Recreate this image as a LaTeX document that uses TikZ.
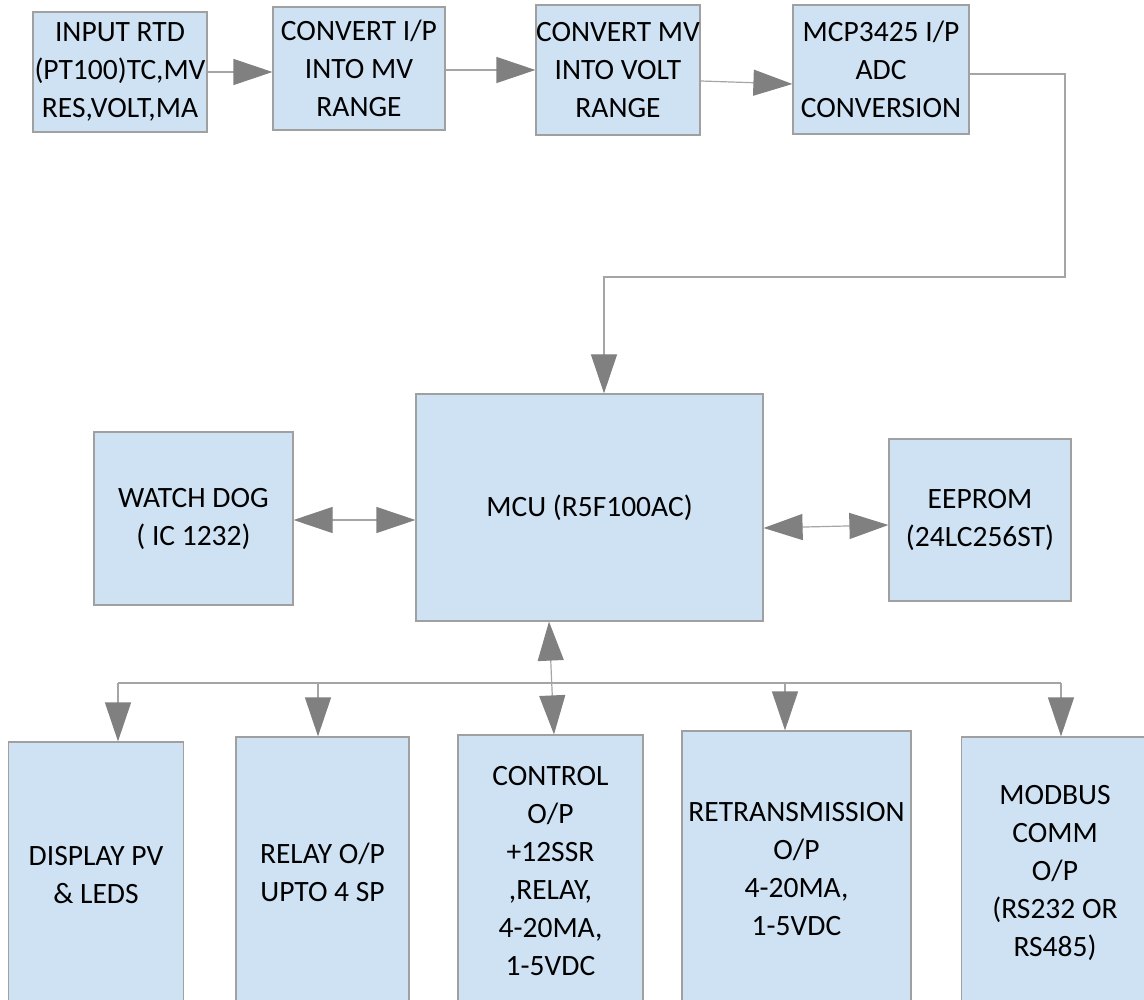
\documentclass[tikz,border=0pt]{standalone}
\usepackage{fontspec}
\setmainfont{Carlito}
\usetikzlibrary{arrows.meta}
\definecolor{boxfill}{RGB}{207,226,243}
\definecolor{boxline}{RGB}{160,160,160}
\definecolor{wire}{RGB}{165,165,165}
\definecolor{tipgray}{RGB}{128,128,128}
\tikzset{
  blk/.style={draw=boxline, fill=boxfill, line width=1.2pt, inner sep=0pt,
    align=center, font=\fontsize{29.5}{38}\selectfont},
  bigtip/.tip={Triangle[length=39pt,width=26pt,color=tipgray]},
  arr/.style={draw=wire, line width=1.2pt, -bigtip},
  dblarr/.style={draw=wire, line width=1.2pt, bigtip-bigtip},
  wireline/.style={draw=wire, line width=1.2pt}
}
\begin{document}
\begin{tikzpicture}[x=1pt, y=-1pt]
  \path[use as bounding box] (0,0) rectangle (1144,1000);
  \clip (0,0) rectangle (1144,1000);

  % input chain
  \node[blk, minimum width=174pt, minimum height=120pt] (b1) at (120,72)
    {INPUT RTD\\(PT100)TC,MV\\RES,VOLT,MA};
  \node[blk, minimum width=172pt, minimum height=123pt] (b2) at (359,68.5)
    {CONVERT I/P\\INTO MV\\RANGE};
  \node[blk, minimum width=164pt, minimum height=130pt] (b3) at (618,70)
    {CONVERT MV\\INTO VOLT\\RANGE};
  \node[blk, minimum width=176pt, minimum height=129pt] (b4) at (881,69.5)
    {MCP3425 I/P\\ADC\\CONVERSION};

  % controller and its peripherals
  \node[blk, minimum width=347pt, minimum height=227pt] (mcu) at (589.5,507.5)
    {MCU (R5F100AC)};
  \node[blk, minimum width=199pt, minimum height=173pt] (wd) at (193.5,518.5)
    {WATCH DOG\\( IC 1232)};
  \node[blk, minimum width=182pt, minimum height=162pt] (ee) at (980,520)
    {EEPROM\\ (24LC256ST)};

  % outputs
  \node[blk, minimum width=175pt, minimum height=266pt] (disp) at (96,875)
    {DISPLAY PV\\\& LEDS};
  \node[blk, minimum width=173pt, minimum height=271pt] (relay) at (322.5,872.5)
    {RELAY O/P\\ UPTO 4 SP};
  \node[blk, minimum width=185pt, minimum height=273pt] (ctrl) at (550.5,871.5)
    {CONTROL\\O/P\\+12SSR\\,RELAY,\\4-20MA,\\1-5VDC};
  \node[blk, minimum width=229pt, minimum height=277pt] (retr) at (796.5,869.5)
    {RETRANSMISSION\\O/P\\4-20MA,\\1-5VDC};
  \node[blk, minimum width=187pt, minimum height=271pt] (mod) at (1055,872.5)
    {MODBUS\\COMM\\O/P\\(RS232 OR\\RS485)};

  % signal path along the top row
  \draw[arr] (b1.east) -- (b1.east -| b2.west);
  \draw[arr] ([yshift=-1.5pt]b2.east) -- ([yshift=-1.5pt]b2.east -| b3.west);
  \draw[arr] ([yshift=-11pt]b3.east) -- ([yshift=-14.5pt]b4.west);

  % ADC to MCU
  \coordinate (bend) at (1065,277);
  \draw[arr] ([yshift=-4.5pt]b4.east) -| (bend) -| ([xshift=14.5pt]mcu.north);

  % bidirectional links
  \draw[dblarr] ([yshift=-1.5pt]wd.east) -- ([yshift=-1.5pt]wd.east -| mcu.west);
  \draw[dblarr] ([yshift=-20.5pt]mcu.east) -- ([yshift=-5pt]ee.west);
  \draw[dblarr] ([xshift=-40.5pt]mcu.south) -- ([xshift=3.5pt]ctrl.north);

  % output bus
  \coordinate (busL) at (118,683);
  \coordinate (busR) at (1061,683);
  \draw[wireline] (busL) -- (busR);
  \draw[arr] (busL) -- ([xshift=22pt]disp.north);
  \draw[arr] ([xshift=-4.5pt]relay.north |- busL) -- ([xshift=-4.5pt]relay.north);
  \draw[arr] ([xshift=-11.5pt]retr.north |- busL) -- ([xshift=-11.5pt]retr.north);
  \draw[arr] (busR) -- ([xshift=6pt]mod.north);
\end{tikzpicture}
\end{document}
